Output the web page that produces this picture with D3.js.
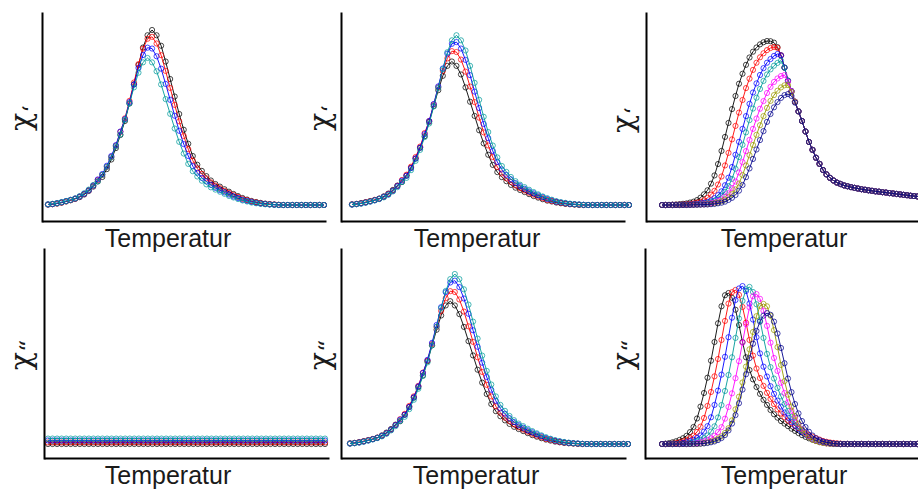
<!DOCTYPE html>
<html>
<head>
<meta charset="utf-8">
<script src="https://cdn.jsdelivr.net/npm/d3@7/dist/d3.min.js"></script>
<style>
  body { margin: 0; background: #fff; }
  svg { display: block; }
  .xtitle { font-family: "Liberation Sans", Arial, sans-serif; font-size: 25px; fill: #1a1a1a; }
  .ytitle { font-family: "DejaVu Serif", "Liberation Serif", serif; font-size: 30px; fill: #1a1a1a; }
</style>
</head>
<body>
<div id="chart"></div>
<script>
// top left: chi' (4 frequencies)
const p1Black = [0.22,0.44,0.8,1.3,2,2.7,3.5,4.5,6,8,10.5,13.5,16,20.5,26,32.5,40,48,58,69,80,90,97,100,97,91,82,72,62,52,43,35,28,23,19.5,16.5,14,12,10.5,9,7.6,6.3,5.1,4,3.1,2.3,1.7,1.2,0.8,0.5,0.3,0.1,0,0,0,0,0,0,0,0,0,0];
const p1Red = [0.28,0.53,0.92,1.44,2.1,2.8,3.6,4.8,6.3,8.4,11.1,14.3,17.2,21.8,27.5,33.9,41.8,49.5,59.5,70,80.5,89.3,95,96.1,92.3,85.6,76.6,66.9,57.2,47.8,39.4,31.9,25.4,20.9,17.8,15.2,12.9,11.1,9.6,8.1,6.9,5.7,4.6,3.5,2.8,2,1.5,1,0.64,0.5,0.3,0.1,0,0,0,0,0,0,0,0,0,0];
const p1Blue = [0.33,0.55,1.04,1.56,2.25,2.95,3.7,4.8,6.4,8.4,11.1,14.6,17.7,22.4,28,34.2,42,49.1,58.8,68.8,78.3,85.7,89.9,89.4,85,77.9,69.2,60.1,51,42.4,34.8,28,22.2,18.4,15.5,13.5,11.5,9.8,8.5,7.2,6,4.9,4,3,2.4,1.8,1.2,0.85,0.56,0.33,0.15,0,0,0,0,0,0,0,0,0,0,0];
const p1Teal = [0.37,0.68,1.1,1.68,2.28,2.93,3.78,5.06,6.7,8.8,11.4,13.4,17.2,21.8,27.2,33.5,40.3,48.7,58,67.2,75.6,81.5,84,81.5,76.4,68.9,60.5,52.1,43.7,36.1,29.4,23.5,19.3,16.3,13.9,11.8,10.1,8.8,7.6,6.4,5.2,4.3,3.4,2.6,2,1.4,1,0.64,0.42,0.25,0.08,0,0,0,0,0,0,0,0,0,0,0];

// top middle: chi'
const p2Black = [0.36,0.66,1.07,1.64,2.23,2.86,3.69,4.94,6.5,8.6,11.1,13.1,16.8,21.3,26.5,32.7,39.3,47.5,56.6,65.6,73.8,79.5,82,79.5,74.6,67.2,59,50.9,42.7,35.2,28.7,22.9,18.8,15.9,13.6,11.5,9.9,8.6,7.4,6.2,5.1,4.2,3.3,2.5,2,1.4,1,0.62,0.41,0.24,0.08,0,0,0,0,0,0,0,0,0,0,0];
const p2Red = [0.32,0.54,1.02,1.53,2.2,2.9,3.6,4.7,6.3,8.2,10.9,14.3,17.3,21.9,27.4,33.4,41.1,48,57.5,67.3,76.6,83.8,87.9,87.4,83.1,76.2,67.7,58.8,49.9,41.5,34,27.4,21.7,18,15.2,13.2,11.2,9.6,8.3,7,5.9,4.8,3.9,2.9,2.3,1.8,1.2,0.83,0.55,0.32,0.15,0,0,0,0,0,0,0,0,0,0,0];
const p2Blue = [0.27,0.51,0.89,1.4,2,2.7,3.5,4.65,6.1,8.1,10.8,13.9,16.7,21.1,26.6,32.8,40.5,48,57.7,67.8,78,86.5,92.1,93.1,89.4,82.9,74.2,64.8,55.4,46.3,38.2,30.9,24.6,20.3,17.2,14.7,12.5,10.8,9.3,7.8,6.7,5.5,4.5,3.4,2.7,1.9,1.45,1,0.62,0.48,0.3,0.1,0,0,0,0,0,0,0,0,0,0];
const p2Teal = [0.21,0.43,0.78,1.26,1.94,2.62,3.4,4.37,5.82,7.76,10.2,13.1,15.5,19.9,25.2,31.5,38.8,46.6,56.3,66.9,77.6,87.3,94.1,97,94.1,88.3,79.5,69.8,60.1,50.4,41.7,34,27.2,22.3,18.9,16,13.6,11.6,10.2,8.7,7.4,6.1,4.9,3.9,3,2.2,1.6,1.2,0.8,0.5,0.3,0.1,0,0,0,0,0,0,0,0,0,0];

// top right: chi' (7 frequencies)
const p3Black = [0,0,0.1,0.2,0.3,0.5,0.7,0.9,1.4,1.9,2.8,4.2,6.1,8.4,12.2,16.9,23.4,30.9,38.9,46.9,54.8,62.3,69.3,75,80.1,84.3,87.6,90,91.8,93,93.7,93.6,92.8,90.2,85.5,78.5,71,65,59,53.5,48,42,36,31.5,27,23.5,20,17.5,15.5,14,12.8,12,11.2,10.7,10.2,9.8,9.4,9,8.7,8.4,8.1,7.8,7.6,7.3,7.1,6.8,6.6,6.3,6.1,5.8,5.6,5.3,5.1,4.9,4.7,4.5];
const p3Red = [0,0,0.05,0.1,0.15,0.2,0.3,0.45,0.6,0.9,1.4,1.8,2.7,4.1,5.9,8.1,11.7,16.3,22.6,29.8,37.5,45.2,52.8,60,66.8,72.2,77.2,81.3,84.4,86.7,88.5,89.7,90.3,89.8,85.5,78.5,71,65,59,53.5,48,42,36,31.5,27,23.5,20,17.5,15.5,14,12.8,12,11.2,10.7,10.2,9.8,9.4,9,8.7,8.4,8.1,7.8,7.6,7.3,7.1,6.8,6.6,6.3,6.1,5.8,5.6,5.3,5.1,4.9,4.7,4.5];
const p3Blue = [0,0,0,0,0.05,0.1,0.15,0.2,0.3,0.4,0.6,0.9,1.3,1.7,2.6,3.9,5.6,7.8,11.3,15.6,21.7,28.7,36.1,43.5,50.8,57.8,64.3,69.5,74.3,78.2,81.3,83.4,85.2,86.3,85.5,78.5,71,65,59,53.5,48,42,36,31.5,27,23.5,20,17.5,15.5,14,12.8,12,11.2,10.7,10.2,9.8,9.4,9,8.7,8.4,8.1,7.8,7.6,7.3,7.1,6.8,6.6,6.3,6.1,5.8,5.6,5.3,5.1,4.9,4.7,4.5];
const p3Teal = [0,0,0,0,0,0.05,0.1,0.15,0.2,0.3,0.4,0.6,0.8,1.2,1.7,2.5,3.7,5.4,7.5,10.8,14.9,20.7,27.4,34.4,41.5,48.5,55.1,61.3,66.3,70.9,74.6,77.5,79.6,81.2,82.5,78.5,71,65,59,53.5,48,42,36,31.5,27,23.5,20,17.5,15.5,14,12.8,12,11.2,10.7,10.2,9.8,9.4,9,8.7,8.4,8.1,7.8,7.6,7.3,7.1,6.8,6.6,6.3,6.1,5.8,5.6,5.3,5.1,4.9,4.7,4.5];
const p3Magenta = [0,0,0,0,0,0,0.05,0.1,0.15,0.2,0.3,0.4,0.5,0.7,1.1,1.5,2.2,3.3,4.8,6.7,9.7,13.4,18.6,24.5,30.8,37.2,43.5,49.4,55,59.4,64,67.5,70.3,72.3,73.7,74.3,70.5,65,59,53.5,48,42,36,31.5,27,23.5,20,17.5,15.5,14,12.8,12,11.2,10.7,10.2,9.8,9.4,9,8.7,8.4,8.1,7.8,7.6,7.3,7.1,6.8,6.6,6.3,6.1,5.8,5.6,5.3,5.1,4.9,4.7,4.5];
const p3Olive = [0,0,0,0,0,0,0,0.05,0.1,0.15,0.2,0.25,0.35,0.5,0.7,1,1.4,2.1,3.1,4.5,6.2,8.9,12.3,17.1,22.6,28.5,34.3,40.1,45.6,50.8,55.5,59.5,62.8,65.3,67.2,68.4,68.5,64.5,59,53.5,48,42,36,31.5,27,23.5,20,17.5,15.5,14,12.8,12,11.2,10.7,10.2,9.8,9.4,9,8.7,8.4,8.1,7.8,7.6,7.3,7.1,6.8,6.6,6.3,6.1,5.8,5.6,5.3,5.1,4.9,4.7,4.5];
const p3Navy = [0,0,0,0,0,0,0,0,0.05,0.1,0.15,0.2,0.25,0.3,0.45,0.6,0.95,1.3,1.9,2.9,4.1,5.7,8.2,11.4,15.9,20.9,26.3,31.7,37.1,42.2,47.5,52,55.8,58.8,61.2,62.8,63.4,62.3,58.5,53.5,48,42,36,31.5,27,23.5,20,17.5,15.5,14,12.8,12,11.2,10.7,10.2,9.8,9.4,9,8.7,8.4,8.1,7.8,7.6,7.3,7.1,6.8,6.6,6.3,6.1,5.8,5.6,5.3,5.1,4.9,4.7,4.5];

// bottom left: chi'' stays flat
const p4Black = [0,0,0,0,0,0,0,0,0,0,0,0,0,0,0,0,0,0,0,0,0,0,0,0,0,0,0,0,0,0,0,0,0,0,0,0,0,0,0,0,0,0,0,0,0,0,0,0,0,0,0,0,0,0,0,0,0,0,0,0,0,0];
const p4Red = [0.9,0.9,0.9,0.9,0.9,0.9,0.9,0.9,0.9,0.9,0.9,0.9,0.9,0.9,0.9,0.9,0.9,0.9,0.9,0.9,0.9,0.9,0.9,0.9,0.9,0.9,0.9,0.9,0.9,0.9,0.9,0.9,0.9,0.9,0.9,0.9,0.9,0.9,0.9,0.9,0.9,0.9,0.9,0.9,0.9,0.9,0.9,0.9,0.9,0.9,0.9,0.9,0.9,0.9,0.9,0.9,0.9,0.9,0.9,0.9,0.9,0.9];
const p4Blue = [2.1,2.1,2.1,2.1,2.1,2.1,2.1,2.1,2.1,2.1,2.1,2.1,2.1,2.1,2.1,2.1,2.1,2.1,2.1,2.1,2.1,2.1,2.1,2.1,2.1,2.1,2.1,2.1,2.1,2.1,2.1,2.1,2.1,2.1,2.1,2.1,2.1,2.1,2.1,2.1,2.1,2.1,2.1,2.1,2.1,2.1,2.1,2.1,2.1,2.1,2.1,2.1,2.1,2.1,2.1,2.1,2.1,2.1,2.1,2.1,2.1,2.1];
const p4Teal = [3.2,3.2,3.2,3.2,3.2,3.2,3.2,3.2,3.2,3.2,3.2,3.2,3.2,3.2,3.2,3.2,3.2,3.2,3.2,3.2,3.2,3.2,3.2,3.2,3.2,3.2,3.2,3.2,3.2,3.2,3.2,3.2,3.2,3.2,3.2,3.2,3.2,3.2,3.2,3.2,3.2,3.2,3.2,3.2,3.2,3.2,3.2,3.2,3.2,3.2,3.2,3.2,3.2,3.2,3.2,3.2,3.2,3.2,3.2,3.2,3.2,3.2];

// bottom middle: chi''
const p5Black = [0.37,0.68,1.1,1.68,2.28,2.93,3.78,5.06,6.7,8.8,11.4,13.4,17.2,21.8,27.2,33.5,40.3,48.7,58,67.2,75.6,81.5,84,81.5,76.4,68.9,60.5,52.1,43.7,36.1,29.4,23.5,19.3,16.3,13.9,11.8,10.1,8.8,7.6,6.4,5.2,4.3,3.4,2.6,2,1.4,1,0.64,0.42,0.25,0.08,0,0,0,0,0,0,0,0,0,0,0];
const p5Red = [0.33,0.55,1.04,1.56,2.25,2.95,3.7,4.8,6.4,8.4,11.1,14.6,17.7,22.4,28,34.2,42,49.1,58.8,68.8,78.3,85.7,89.9,89.4,85,77.9,69.2,60.1,51,42.4,34.8,28,22.2,18.4,15.5,13.5,11.5,9.8,8.5,7.2,6,4.9,4,3,2.4,1.8,1.2,0.85,0.56,0.33,0.15,0,0,0,0,0,0,0,0,0,0,0];
const p5Blue = [0.28,0.53,0.92,1.44,2.1,2.8,3.6,4.8,6.3,8.4,11.1,14.3,17.2,21.8,27.5,33.9,41.8,49.5,59.5,70,80.5,89.3,95,96.1,92.3,85.6,76.6,66.9,57.2,47.8,39.4,31.9,25.4,20.9,17.8,15.2,12.9,11.1,9.6,8.1,6.9,5.7,4.6,3.5,2.8,2,1.5,1,0.64,0.5,0.3,0.1,0,0,0,0,0,0,0,0,0,0];
const p5Teal = [0.22,0.44,0.8,1.3,2,2.7,3.5,4.5,6,8,10.5,13.5,16,20.5,26,32.5,40,48,58,69,80,90,97,100,97,91,82,72,62,52,43,35,28,23,19.5,16.5,14,12,10.5,9,7.6,6.3,5.1,4,3.1,2.3,1.7,1.2,0.8,0.5,0.3,0.1,0,0,0,0,0,0,0,0,0,0];

// bottom right: chi'' (7 frequencies)
const p6Black = [0,0.2,0.5,1,1.6,2.4,3.4,4.8,7,10,15,22,30,39,49,60,71,81,87.5,88.8,86,79,70,60,51,43.5,38,33.5,29.5,26,23,20,17.5,15.5,13.5,12,10.5,9,7.7,6.4,5.2,4.2,3.3,2.5,1.8,1.3,0.9,0.6,0.4,0.2,0.1,0,0,0,0,0,0,0,0,0,0,0,0,0,0,0,0,0,0,0,0,0,0,0,0,0];
const p6Red = [0,0,0,0.2,0.5,1,1.6,2.4,3.5,4.9,7.1,10.2,15.3,22.4,30.6,39.8,50,61.2,72.4,82.6,89.3,90.6,87.7,80.6,71.4,61.2,52,44.4,38.8,34.2,30.1,26.5,23.5,20.4,17.9,15.8,13.8,12.2,10.7,9.2,7.9,6.5,5.3,4.3,3.4,2.6,1.8,1.3,0.9,0.6,0.4,0.2,0.1,0,0,0,0,0,0,0,0,0,0,0,0,0,0,0,0,0,0,0,0,0,0,0];
const p6Blue = [0,0,0,0,0,0.2,0.5,1,1.7,2.5,3.6,5,7.3,10.5,15.7,23,31.4,40.8,51.3,62.8,74.3,84.7,91.5,92.9,90,82.6,73.2,62.8,53.3,45.5,39.7,34,29.5,25.5,22,18.5,15.5,13,10.8,8.8,7,5.5,4.2,3.1,2.2,1.5,1,0.6,0.3,0.1,0,0,0,0,0,0,0,0,0,0,0,0,0,0,0,0,0,0,0,0,0,0,0,0,0,0];
const p6Teal = [0,0,0,0,0,0,0,0.2,0.5,1,1.7,2.5,3.5,5,7.3,10.4,15.6,22.9,31.2,40.6,51,62.4,73.8,84.2,91,92.4,89.4,82.2,72.8,62.4,53,45.2,38.5,33,28,23.5,19.5,16,13,10.3,8,6,4.4,3.1,2.1,1.4,0.9,0.5,0.3,0.1,0,0,0,0,0,0,0,0,0,0,0,0,0,0,0,0,0,0,0,0,0,0,0,0,0,0];
const p6Magenta = [0,0,0,0,0,0,0,0,0,0.2,0.5,1,1.6,2.4,3.4,4.8,7,9.9,14.9,21.8,29.8,38.7,48.7,59.6,70.5,80.4,86.9,88.2,85.4,78.4,69.5,59.6,50.6,43,36,30,24.5,19.5,15.3,11.7,8.7,6.3,4.4,3,2,1.3,0.8,0.4,0.2,0.1,0,0,0,0,0,0,0,0,0,0,0,0,0,0,0,0,0,0,0,0,0,0,0,0,0,0];
const p6Olive = [0,0,0,0,0,0,0,0,0,0,0,0.2,0.5,0.9,1.5,2.2,3.2,4.5,6.5,9.3,13.9,20.4,27.8,36.2,45.5,55.7,65.9,75.2,81.2,82.4,81,75.5,67,57,46.5,37,29,22,16.5,12,8.5,6,4,2.6,1.7,1,0.6,0.3,0.1,0,0,0,0,0,0,0,0,0,0,0,0,0,0,0,0,0,0,0,0,0,0,0,0,0,0,0];
const p6Navy = [0,0,0,0,0,0,0,0,0,0.05,0.1,0.2,0.35,0.6,1,1.5,2.3,3.5,5.3,8,12,17,24,32,41,50.5,59,66.5,72,75.5,77,76,72,65,56.5,47.5,38.5,30.5,23.5,18,13.5,10,7.2,5,3.4,2.3,1.5,1,0.6,0.3,0.1,0,0,0,0,0,0,0,0,0,0,0,0,0,0,0,0,0,0,0,0,0,0,0,0,0];

const colors = {black: "#000000", red: "#ff0000", blue: "#0000ff", teal: "#009a9a",
                magenta: "#ff00ff", olive: "#9a9a00", navy: "#00008b"};
const xTitle = "Temperatur";
const yTitles = [["χ", "‘"], ["χ", "“"]];

// row layout: where value 0 and value 100 sit, and the y axis extent
const rows = [
  {zero: 205, full: 30, axisTop: 12, axisBottom: 221, titleY: 247, markShift: 9},
  {zero: 444, full: 274, axisTop: 248, axisBottom: 458, titleY: 484, markShift: 6}
];

const panels = [
  {row: 0, axis: [42, 326], data: [48, 324], titleX: 168, yTitleX: 31, yTitleY: 118,
   series: [["black", p1Black], ["red", p1Red], ["blue", p1Blue], ["teal", p1Teal]]},
  {row: 0, axis: [341, 625], data: [352, 629], titleX: 477, yTitleX: 330, yTitleY: 118,
   series: [["black", p2Black], ["red", p2Red], ["blue", p2Blue], ["teal", p2Teal]]},
  {row: 0, axis: [646, 918], data: [662, 924.5], titleX: 784, yTitleX: 633, yTitleY: 120,
   series: [["black", p3Black], ["red", p3Red], ["blue", p3Blue], ["teal", p3Teal],
            ["magenta", p3Magenta], ["olive", p3Olive], ["navy", p3Navy]]},
  {row: 1, axis: [44, 329], data: [48, 325], titleX: 168, yTitleX: 31, yTitleY: 355,
   series: [["black", p4Black], ["red", p4Red], ["blue", p4Blue], ["teal", p4Teal]]},
  {row: 1, axis: [341, 626], data: [350, 628], titleX: 476, yTitleX: 330, yTitleY: 355,
   series: [["black", p5Black], ["red", p5Red], ["blue", p5Blue], ["teal", p5Teal]]},
  {row: 1, axis: [645, 918], data: [662, 924.5], titleX: 784, yTitleX: 633, yTitleY: 355,
   series: [["black", p6Black], ["red", p6Red], ["blue", p6Blue], ["teal", p6Teal],
            ["magenta", p6Magenta], ["olive", p6Olive], ["navy", p6Navy]]}
];

const svg = d3.select("#chart").append("svg")
    .attr("width", 918)
    .attr("height", 489);

panels.forEach(p => {
    const row = rows[p.row];
    const n = p.series[0][1].length;
    const g = svg.append("g");

    const x = d3.scaleLinear().domain([0, n - 1]).range(p.data);
    const y = d3.scaleLinear().domain([0, 100]).range([row.zero, row.full]);

    const line = d3.line()
        .x((d, i) => x(i))
        .y(d => y(d));

    p.series.forEach(([name, values]) => {
        g.append("path")
            .datum(values)
            .attr("fill", "none")
            .attr("stroke", colors[name])
            .attr("stroke-width", 0.9)
            .attr("d", line);

        g.selectAll(null)
            .data(values)
            .enter()
            .append("circle")
            .attr("cx", (d, i) => x(i))
            .attr("cy", d => y(d))
            .attr("r", 2.6)
            .attr("fill", "none")
            .attr("stroke", colors[name])
            .attr("stroke-opacity", 0.8)
            .attr("stroke-width", 0.9);
    });

    // bare axes, no ticks
    g.append("g")
        .attr("transform", `translate(0,${row.axisBottom})`)
        .call(d3.axisBottom(d3.scaleLinear().range(p.axis)).ticks(0).tickSizeOuter(0))
        .call(a => a.select(".domain").attr("stroke", "#000").attr("stroke-width", 2));

    g.append("g")
        .attr("transform", `translate(${p.axis[0]},0)`)
        .call(d3.axisLeft(d3.scaleLinear().range([row.axisBottom + 1, row.axisTop])).ticks(0).tickSizeOuter(0))
        .call(a => a.select(".domain").attr("stroke", "#000").attr("stroke-width", 2));

    g.append("text")
        .attr("class", "xtitle")
        .attr("x", p.titleX)
        .attr("y", row.titleY)
        .attr("text-anchor", "middle")
        .text(xTitle);

    const yt = g.append("text")
        .attr("class", "ytitle")
        .attr("transform", `translate(${p.yTitleX},${p.yTitleY}) rotate(-90)`)
        .attr("text-anchor", "middle");
    yt.append("tspan").text(yTitles[p.row][0]);
    yt.append("tspan").attr("dy", row.markShift).attr("font-size", 24).text(yTitles[p.row][1]);
});
</script>
</body>
</html>
